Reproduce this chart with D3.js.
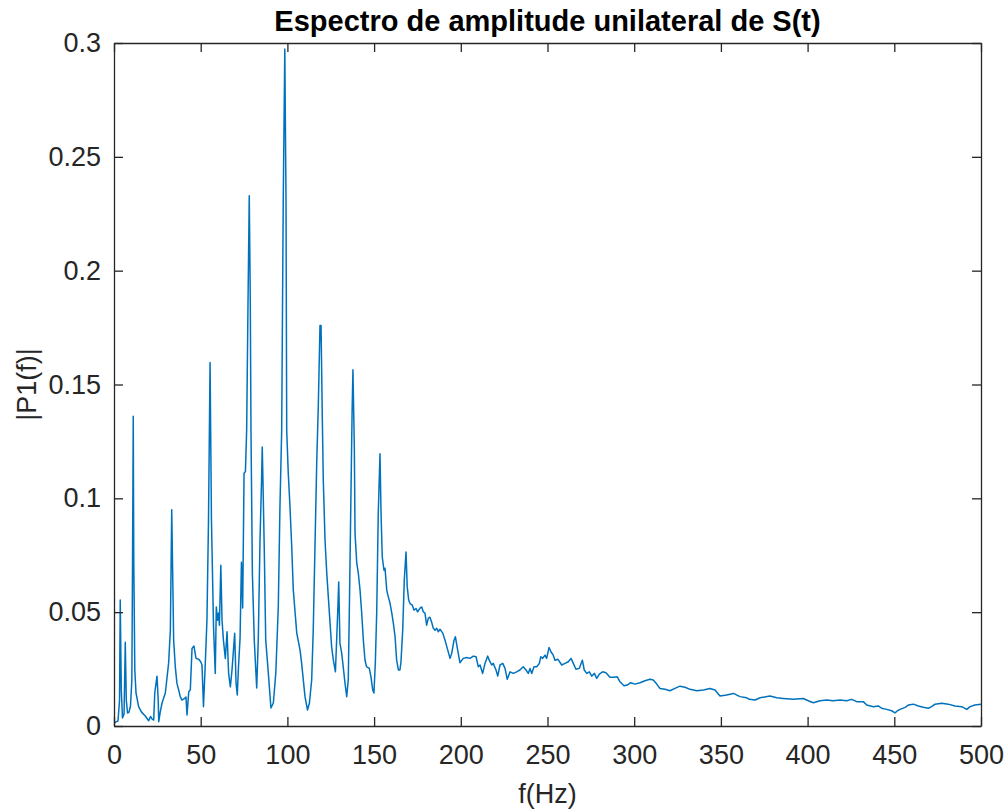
<!DOCTYPE html>
<html>
<head>
<meta charset="utf-8">
<script src="https://cdn.jsdelivr.net/npm/d3@7"></script>
<style>
  body { margin: 0; background: #fff; }
  svg { display: block; font-family: Arial, "Liberation Sans", Helvetica, sans-serif; }
</style>
</head>
<body>
<div id="chart"></div>
<script>
// frequency (Hz) / amplitude pairs
const spectrum = [
  [0,0.0013],[1.15,0.0018],[2.3,0.0022],[3.2,0.0114],[3.6,0.0553],[4.2,0.0158],[4.9,0.0035],[5.8,0.0053],[6.5,0.0368],[7.1,0.0114],
  [7.8,0.0057],[8.65,0.0061],[9.5,0.0088],[10.3,0.0202],[10.7,0.0728],[11.1,0.136],[11.4,0.0728],[12.0,0.0246],[12.7,0.0145],[14.2,0.0085],
  [15.9,0.0061],[18.05,0.0044],[20.0,0.0023],[21.05,0.0042],[21.9,0.0031],[22.9,0.0026],[23.5,0.0145],[24.8,0.0219],[25.5,0.0114],[25.8,0.0019],
  [26.7,0.0063],[27.7,0.0101],[29.6,0.0145],[31.5,0.0276],[32.5,0.0421],[33.3,0.095],[34.4,0.0377],[35.35,0.026],[36.3,0.0187],[37.3,0.0158],
  [38.2,0.0129],[39.2,0.0114],[40.8,0.0121],[41.5,0.0127],[42.1,0.0048],[43.1,0.015],[44.0,0.0158],[45.0,0.0341],[46.1,0.0351],[47.3,0.0297],
  [48.85,0.0293],[50.0,0.0282],[50.75,0.0268],[51.6,0.0085],[52.65,0.0275],[53.6,0.0465],[54.5,0.0904],[55.4,0.1597],[56.2,0.0904],[57.4,0.0436],
  [58.4,0.0231],[59.0,0.0523],[59.7,0.0465],[60.3,0.0496],[60.8,0.0443],[61.6,0.0706],[62.3,0.0465],[63.1,0.0377],[64.2,0.0297],[65.2,0.0414],
  [66.1,0.0231],[67.1,0.0172],[68.05,0.0246],[69.6,0.0407],[70.4,0.0187],[71.1,0.0136],[71.8,0.026],[72.7,0.0386],[73.5,0.0719],[74.2,0.0518],
  [75.0,0.111],[75.8,0.1118],[76.5,0.1298],[77.3,0.1868],[78.0,0.2329],[78.6,0.1868],[79.0,0.1298],[79.8,0.0671],[80.9,0.0377],[82.3,0.0167],
  [83.2,0.0377],[84.2,0.0816],[85.1,0.1079],[85.5,0.1225],[85.9,0.1079],[86.7,0.0759],[87.5,0.0377],[89.0,0.0232],[90.5,0.0079],[91.9,0.0101],
  [93.3,0.0232],[94.75,0.0523],[95.7,0.0962],[96.7,0.1298],[97.6,0.2307],[98.5,0.2974],[99.2,0.2307],[99.6,0.1298],[100.5,0.111],[101.5,0.0962],
  [102.5,0.0786],[103.4,0.0597],[105.4,0.0408],[107.3,0.0333],[108.2,0.0276],[110.15,0.0129],[111.6,0.007],[112.7,0.0101],[114.0,0.0202],[114.9,0.0421],
  [115.9,0.0786],[116.9,0.1154],[117.8,0.14],[118.8,0.1759],[119.4,0.1759],[120.1,0.1373],[120.7,0.1079],[121.7,0.0816],[122.7,0.0671],[123.6,0.0567],
  [124.6,0.0452],[125.5,0.0348],[126.5,0.0289],[127.7,0.0238],[129.0,0.0496],[129.6,0.0633],[130.3,0.0364],[131.3,0.032],[132.2,0.026],[133.2,0.0189],
  [134.2,0.0129],[135.1,0.0202],[135.7,0.0496],[136.5,0.0934],[137.3,0.1373],[137.8,0.1565],[138.6,0.1225],[139.0,0.0846],[140.0,0.0715],[140.9,0.0671],
  [141.9,0.0596],[142.85,0.0496],[143.8,0.0377],[144.75,0.0289],[145.7,0.026],[147.2,0.0254],[148.2,0.0216],[149.2,0.0158],[149.9,0.0145],[150.7,0.0276],
  [151.5,0.0496],[152.4,0.0934],[153.4,0.1196],[154.0,0.0934],[154.7,0.0743],[155.7,0.0684],[156.3,0.0693],[157.3,0.0596],[158.2,0.0567],[159.2,0.0539],
  [160.2,0.0496],[161.1,0.0452],[162.1,0.0392],[163.0,0.0289],[164.0,0.0246],[164.9,0.0246],[165.5,0.0282],[166.5,0.0421],[167.4,0.064],[168.4,0.0764],
  [169.1,0.0611],[169.95,0.0553],[170.7,0.0538],[172.0,0.0531],[173.0,0.0509],[174.2,0.0516],[175.1,0.0501],[176.5,0.0518],[177.45,0.0523],[178.4,0.0501],
  [179.35,0.0496],[180.3,0.0443],[181.3,0.0474],[182.2,0.0478],[183.2,0.0456],[184.1,0.043],[185.1,0.0421],[186.1,0.0429],[187.0,0.0414],[188.0,0.0425],
  [189.6,0.0408],[190.9,0.0377],[192.2,0.0341],[193.8,0.0297],[194.75,0.0319],[196.1,0.0377],[196.9,0.0392],[198.2,0.0333],[199.5,0.0278],[201.4,0.0297],
  [203.4,0.0301],[205.3,0.0297],[207.2,0.0307],[208.8,0.0304],[210.1,0.026],[211.1,0.0268],[212.6,0.0231],[213.95,0.0275],[215.5,0.0307],[216.4,0.0289],
  [217.8,0.0268],[218.7,0.0275],[220.3,0.0246],[221.3,0.0219],[222.6,0.0268],[224.2,0.0275],[225.5,0.0253],[226.8,0.0205],[228.4,0.0238],[230.3,0.0231],
  [232.2,0.0238],[234.1,0.0246],[236.0,0.026],[237.6,0.0246],[238.9,0.0231],[239.9,0.0253],[240.9,0.0231],[242.2,0.026],[243.8,0.026],[245.3,0.0275],
  [246.1,0.0304],[247.2,0.0297],[248.55,0.0311],[249.5,0.0297],[250.9,0.0345],[252.0,0.0326],[253.3,0.0311],[254.3,0.0289],[256.05,0.0293],[258.2,0.0268],
  [260.1,0.0275],[262.0,0.0282],[263.55,0.0297],[264.9,0.0275],[266.4,0.0249],[268.3,0.0253],[270.1,0.0289],[271.2,0.0246],[272.6,0.0231],[274.1,0.0238],
  [275.5,0.0219],[277.0,0.0231],[278.4,0.0209],[279.9,0.0228],[281.8,0.0238],[283.7,0.0234],[286.05,0.0214],[288.35,0.0214],[290.25,0.0216],[291.8,0.0194],
  [294.1,0.0177],[296.0,0.018],[298.0,0.019],[300.5,0.0184],[303.3,0.019],[306.2,0.0199],[309.1,0.0205],[311.0,0.0202],[313.0,0.0184],[314.9,0.0165],
  [317.8,0.0161],[320.6,0.0155],[323.5,0.0165],[326.4,0.0175],[329.3,0.017],[332.2,0.0161],[336.05,0.0155],[339.9,0.0158],[343.7,0.0165],[346.6,0.0158],
  [349.5,0.0132],[353.3,0.0136],[357.2,0.0143],[361.0,0.0129],[364.9,0.0124],[366.4,0.0117],[369.7,0.0114],[372.6,0.0124],[378.3,0.0132],[382.2,0.0124],
  [386.0,0.0121],[391.8,0.0117],[397.5,0.0121],[400.4,0.0111],[403.3,0.0102],[407.2,0.0111],[411.0,0.0114],[414.8,0.0111],[418.7,0.0114],[422.5,0.0111],
  [425.4,0.0117],[428.3,0.0107],[432.1,0.0107],[434.1,0.0092],[437.9,0.0085],[440.8,0.0088],[442.7,0.0078],[445.6,0.0073],[448.5,0.0067],[450.4,0.0058],
  [451.7,0.0066],[453.3,0.0073],[456.2,0.0082],[458.1,0.0092],[461.0,0.0096],[463.85,0.0088],[466.7,0.0082],[469.6,0.0078],[471.55,0.0085],[473.5,0.0096],
  [477.3,0.01],[481.1,0.0096],[485.0,0.0088],[488.9,0.0085],[491.8,0.0073],[493.7,0.0085],[496.5,0.0092],[500,0.0096]
];

const xTicks = [0, 50, 100, 150, 200, 250, 300, 350, 400, 450, 500];
const yTicks = [0, 0.05, 0.1, 0.15, 0.2, 0.25, 0.3];
const yTickLabels = ["0", "0.05", "0.1", "0.15", "0.2", "0.25", "0.3"];

const titleText = "Espectro de amplitude unilateral de S(t)";
const xLabelText = "f(Hz)";
const yLabelText = "|P1(f)|";

const totalW = 1005, totalH = 809;
const margin = { top: 43, right: 24, bottom: 83, left: 114 };
const width = totalW - margin.left - margin.right;
const height = totalH - margin.top - margin.bottom;
const axisColor = "#262626";

const svg = d3.select("#chart")
  .append("svg")
  .attr("width", totalW)
  .attr("height", totalH);

svg.append("rect").attr("width", totalW).attr("height", totalH).attr("fill", "#fff");

const g = svg.append("g")
  .attr("transform", `translate(${margin.left}, ${margin.top})`);

const x = d3.scaleLinear().domain([0, 500]).range([0, width]);
const y = d3.scaleLinear().domain([0, 0.3]).range([height, 0]);

// clip so the trace stays inside the box
g.append("clipPath").attr("id", "clip")
  .append("rect").attr("width", width).attr("height", height);

const line = d3.line()
  .x((d) => x(d[0]))
  .y((d) => y(d[1]));

g.append("path")
  .datum(spectrum)
  .attr("clip-path", "url(#clip)")
  .attr("fill", "none")
  .attr("stroke", "#0072BD")
  .attr("stroke-width", 1.5)
  .attr("stroke-linejoin", "round")
  .attr("d", line);

// axes, ticks pointing inward like MATLAB
const styleAxis = (sel) => {
  sel.selectAll("path, line").attr("stroke", axisColor).attr("stroke-width", 1.3);
  sel.selectAll("text").attr("fill", axisColor).style("font-size", "27px");
};

g.append("g")
  .attr("transform", `translate(0, ${height})`)
  .call(d3.axisBottom(x).tickValues(xTicks).tickSizeInner(-9).tickSizeOuter(0).tickPadding(19).tickFormat(d3.format("d")))
  .call(styleAxis);

g.append("g")
  .call(d3.axisLeft(y).tickValues(yTicks).tickSizeInner(-9).tickSizeOuter(0).tickPadding(13)
    .tickFormat((d, i) => yTickLabels[i]))
  .call(styleAxis);

g.append("g")
  .call(d3.axisTop(x).tickValues(xTicks).tickSizeInner(-9).tickSizeOuter(0).tickFormat(""))
  .call(styleAxis);

g.append("g")
  .attr("transform", `translate(${width}, 0)`)
  .call(d3.axisRight(y).tickValues(yTicks).tickSizeInner(-9).tickSizeOuter(0).tickFormat(""))
  .call(styleAxis);

svg.selectAll(".domain").attr("fill", "none");

// title and axis labels
svg.append("text")
  .attr("x", margin.left + width / 2)
  .attr("y", 31)
  .attr("text-anchor", "middle")
  .style("font-size", "29px")
  .style("font-weight", "bold")
  .attr("fill", "#000")
  .text(titleText);

svg.append("text")
  .attr("x", margin.left + width / 2)
  .attr("y", 803)
  .attr("text-anchor", "middle")
  .style("font-size", "27px")
  .attr("fill", axisColor)
  .text(xLabelText);

svg.append("text")
  .attr("transform", `translate(36, ${margin.top + height / 2}) rotate(-90)`)
  .attr("text-anchor", "middle")
  .style("font-size", "27px")
  .attr("fill", axisColor)
  .text(yLabelText);
</script>
</body>
</html>
